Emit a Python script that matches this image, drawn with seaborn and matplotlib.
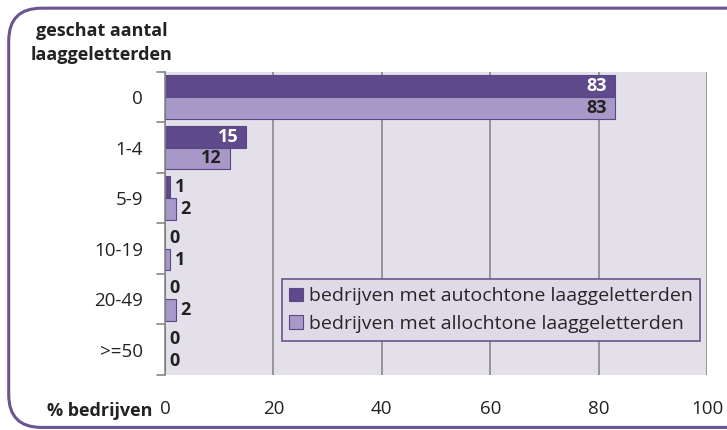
import pandas as pd
import matplotlib.pyplot as plt
import seaborn as sns
from matplotlib.patches import FancyBboxPatch

# data
categories = ['0', '1-4', '5-9', '10-19', '20-49', '>=50']
autochtoon = [83, 15, 1, 0, 0, 0]
allochtoon = [83, 12, 2, 1, 2, 0]
series = ['bedrijven met autochtone laaggeletterden', 'bedrijven met allochtone laaggeletterden']

df = pd.DataFrame({
    'cat': categories * 2,
    'pct': autochtoon + allochtoon,
    'serie': [series[0]] * len(categories) + [series[1]] * len(categories),
})

sns.set_style('white')
plt.rcParams['font.family'] = ['Open Sans', 'DejaVu Sans']

fig = plt.figure(figsize=(7.27, 4.30), dpi=100)
ax = fig.add_axes([0.227, 0.128, 0.7455, 0.705])

# rounded frame around the chart
frame = FancyBboxPatch((0.012, 0.006), 1.1, 0.975, boxstyle='round,pad=0,rounding_size=0.045',
                       transform=fig.transFigure, fill=False, edgecolor='#6A5590', linewidth=2.2,
                       clip_on=False, mutation_aspect=727 / 430)
fig.patches.append(frame)

colors = ['#5F4B8B', '#A898C8']
sns.barplot(data=df, y='cat', x='pct', hue='serie', order=categories, hue_order=series,
            palette=colors, orient='h', width=0.86, edgecolor='#5A4785', linewidth=0.8,
            saturation=1, ax=ax)

ax.set_facecolor('#E4E0EA')
ax.set_xlim(0, 100)
ax.set_ylim(5.5, -0.5)
ax.set_xticks([0, 20, 40, 60, 80, 100])
ax.grid(axis='x', color='#888888', linewidth=1.2)
ax.set_axisbelow(True)
for s in ['top', 'right', 'bottom']:
    ax.spines[s].set_visible(False)
ax.spines['left'].set_color('#888888')
ax.spines['left'].set_linewidth(1.2)
ax.tick_params(axis='y', length=0, labelsize=13.5, pad=16, colors='#222222')
ax.tick_params(axis='x', length=5, labelsize=13.5, colors='#222222', color='#888888', pad=13)
ax.set_xlabel('')
ax.set_ylabel('')

# category boundary ticks on the y-axis
for b in range(7):
    ax.plot([-1.5, 0], [b - 0.5, b - 0.5], color='#888888', lw=1.2, clip_on=False)

# value labels
for i, cont in enumerate(ax.containers):
    for bar, v in zip(cont, [autochtoon, allochtoon][i]):
        yc = bar.get_y() + bar.get_height() / 2
        if v >= 10:
            ax.text(bar.get_width() - 1.5, yc, str(v), ha='right', va='center',
                    fontsize=13, fontweight='bold', color='white' if i == 0 else '#222222')
        else:
            ax.text(bar.get_width() + 0.8, yc, str(v), ha='left', va='center',
                    fontsize=13, fontweight='bold', color='#222222')

leg = ax.legend(loc='lower right', bbox_to_anchor=(0.995, 0.1), fontsize=14, frameon=True,
                fancybox=False, edgecolor='#6A5590', facecolor='#E0DAE8', framealpha=1,
                handlelength=0.7, handleheight=0.7, handletextpad=0.3, borderpad=0.4,
                labelspacing=0.5, borderaxespad=0.2)
leg.get_frame().set_linewidth(1.2)

fig.text(0.14, 0.9, 'geschat aantal\nlaaggeletterden', ha='center', va='center',
         fontsize=13, fontweight='bold', color='#222222', linespacing=1.4)
fig.text(0.064, 0.045, '% bedrijven', ha='left', va='center', fontsize=13,
         fontweight='bold', color='#222222')

fig.savefig('out.png', dpi=100)
